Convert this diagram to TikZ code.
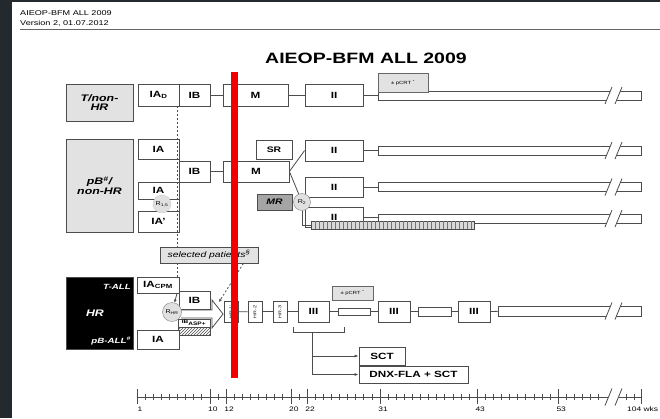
\documentclass[tikz,border=0pt]{standalone}
\usepackage{fontspec}
\setmainfont{Liberation Sans}[FakeStretch=1.3]
\usetikzlibrary{arrows.meta, patterns, positioning}
\definecolor{frame}{RGB}{36,41,46}
\definecolor{boxgray}{RGB}{226,226,226}
\definecolor{mrgray}{RGB}{165,165,165}
\definecolor{marker}{RGB}{240,0,0}

\newcommand{\fsz}[1]{\fontsize{#1}{#1}\selectfont}
% break marks of the long bars and of the time axis
\newcommand{\cutbar}[1]{%
  \fill[white] (605,#1+8.5) -- (612,#1-8.5) -- (622,#1-8.5) -- (615,#1+8.5) -- cycle;
  \draw[link] (605,#1+8.5) -- (612,#1-8.5) (615,#1+8.5) -- (622,#1-8.5);}

\begin{document}
\begin{tikzpicture}[x=1pt, y=-1pt,
  blk/.style={draw=black!70, line width=0.8pt, fill=white, inner sep=0pt, font=\bfseries\fsz{9}},
  grp/.style={blk, fill=boxgray, align=center, font=\bfseries\itshape\fsz{9.5}},
  bar/.style={draw=black!70, line width=0.8pt, fill=white, inner sep=0pt},
  pcrt/.style={draw=black!60, line width=0.8pt, fill=boxgray, inner sep=0pt, font=\fsz{4.5}},
  rnd/.style={circle, draw=black!50, fill=black!12, inner sep=0pt, minimum size=17pt, font=\fsz{5.5}},
  hrtxt/.style={text=white, inner sep=0pt, font=\bfseries\itshape\fsz{7.5}},
  hrblk/.style={blk, minimum width=14, minimum height=21, font=\fsz{4}},
  link/.style={draw=black!70, line width=0.8pt},
  wk/.style={anchor=north, inner sep=0pt, font=\fsz{6.5}}
]
  \useasboundingbox (0,0) rectangle (660,418);
  \fill[frame] (0,0) rectangle (660,418);
  \fill[white] (12,2) rectangle (660,418);

  % header
  \node[anchor=west, inner sep=0pt, font=\fsz{7}] (hd1) at (20,13) {AIEOP-BFM ALL 2009};
  \node[anchor=west, inner sep=0pt, font=\fsz{7}] (hd2) at (20,23) {Version 2, 01.07.2012};
  \draw[black!60, line width=0.8pt] (20,29) -- (660,29);
  \node[font=\bfseries\fsz{15}] (title) at (366,58) {AIEOP-BFM ALL 2009};

  % T/non-HR
  \node[grp, minimum width=67, minimum height=37] (tnhr) at (99.5,102.5) {T/non-\\HR};
  \node[blk, minimum width=41, minimum height=22] (iad) at (158.5,95) {IA\textsubscript{D}};
  \node[blk, minimum width=31, minimum height=22] (ib1) at (194.5,95) {IB};
  \node[blk, minimum width=65, minimum height=22] (m1) at (255.5,95) {M};
  \node[blk, minimum width=58, minimum height=22] (ii1) at (334,95) {II};
  \node[bar, minimum width=263, minimum height=9] (rt1) at (509.5,95.5) {};
  \node[pcrt, minimum width=50, minimum height=19] (pc1) at (403,82.5) {± pCRT \textsuperscript{*}};
  \draw[link] (ib1) -- (m1);
  \draw[link] (m1) -- (ii1);
  \draw[link] (ii1.east) -- (ii1.east -| rt1.west);
  \cutbar{95.5}

  % pB/non-HR
  \node[grp, minimum width=67, minimum height=93] (pbnhr) at (99.5,185.5) {pB\textsuperscript{\#}/\\non-HR};
  \node[blk, minimum width=41, minimum height=20] (ia2) at (158.5,149) {IA};
  \node[blk, minimum width=31, minimum height=21] (ib2) at (194.5,171.5) {IB};
  \node[blk, minimum width=66, minimum height=21] (m2) at (256,171.5) {M};
  \node[blk, minimum width=41, minimum height=17] (ia3) at (158.5,190.5) {IA};
  \node[blk, minimum width=41, minimum height=21] (iap) at (158.5,221.5) {IA'};
  \node[rnd, draw=black!40, densely dotted, minimum size=18pt] (r1) at (162,204) {R\textsubscript{1,5}};
  \draw[link] (ia2.south east) -- (iap.north east);
  \draw[link] (ib2) -- (m2);

  \node[blk, font=\bfseries\fsz{8}, minimum width=36, minimum height=19] (sr) at (274,149.5) {SR};
  \node[blk, fill=mrgray, font=\bfseries\itshape\fsz{8}, minimum width=35, minimum height=16] (mr) at (274.5,202) {MR};
  \node[blk, minimum width=58, minimum height=21] (ii2a) at (334,150.5) {II};
  \node[blk, minimum width=58, minimum height=20] (ii2b) at (334,187) {II};
  \node[blk, minimum width=58, minimum height=20] (ii2c) at (334,217) {II};
  \node[bar, minimum width=263, minimum height=9] (rt2a) at (509.5,150.5) {};
  \node[bar, minimum width=263, minimum height=9] (rt2b) at (509.5,187) {};
  \node[bar, minimum width=263, minimum height=9] (rt2c) at (509.5,218.5) {};
  \node[bar, fill=black!15, minimum width=163, minimum height=8] (ext) at (392.5,225) {};
  \foreach \x in {315,319,...,471} \draw[black!55, line width=0.5pt] (\x,221) -- (\x,229);
  \node[rnd] (r2) at (302,202) {R\textsubscript{2}};
  \draw[link] (m2.east) -- (ii2a.west);
  \draw[link] (m2.east) -- (r2);
  \draw[link] (ii2a.east) -- (ii2a.east -| rt2a.west);
  \draw[link] (ii2b.east) -- (ii2b.east -| rt2b.west);
  \draw[link] (ii2c.east) -- (ii2c.east -| rt2c.west);
  \draw[link] (r2) |- (ext.west);
  \cutbar{150.5}
  \cutbar{187}
  \cutbar{218.5}

  % HR
  \node[blk, fill=black, minimum width=67, minimum height=72] (hr) at (99.5,313) {};
  \node[hrtxt, anchor=east] (tall) at (131,287) {T-ALL};
  \node[hrtxt, font=\bfseries\itshape\fsz{9.5}] (hrl) at (95,313) {HR};
  \node[hrtxt, anchor=east] (pball) at (131,341) {pB-ALL\textsuperscript{\#}};
  \node[blk, minimum width=42, minimum height=16] (iacpm) at (158,285) {IA\textsubscript{CPM}};
  \node[blk, minimum width=31, minimum height=18] (ib3) at (194.5,300) {IB};
  \node[blk, font=\bfseries\fsz{5}, minimum width=32, minimum height=8] (ibasp) at (194,323) {IB\textsubscript{ASP+}};
  \node[draw=black!70, line width=0.8pt, pattern=north east lines, pattern color=black!70, minimum width=32, minimum height=8, inner sep=0pt] (asp) at (194,331) {};
  \node[blk, minimum width=42, minimum height=19] (ia4) at (158,339.5) {IA};

  % selected patients
  \node[blk, fill=boxgray, font=\itshape\fsz{8}, minimum width=98, minimum height=16] (sel) at (209,255) {selected patients\textsuperscript{§}};
  \coordinate (dl) at (177,106);
  \draw[link, dash pattern=on 2pt off 2pt] (dl) -- (dl |- sel.north);
  \draw[link, dash pattern=on 2pt off 2pt] (dl |- sel.south) -- (dl |- iacpm.north);

  \coordinate (tip) at (223,314);
  \draw[link, fill=white] (181,310) -- (212,310) -- (212,300) -- (tip) -- (212,328) -- (212,318) -- (181,318);
  \node[rnd, minimum size=19pt] (rhr) at (172,312) {R\textsubscript{HR}};
  \draw[link, -{Latex[length=3pt,width=3pt]}] (dl |- iacpm.south) -- (rhr);
  \draw[link, dash pattern=on 2pt off 2pt, -{Latex[length=3pt,width=3pt]}] ([xshift=-15pt]sel.south east) -- (219,302);

  \node[hrblk] (hr1) at (231,312) {\rotatebox{90}{HR-1'}};
  \node[hrblk] (hr2) at (255,311.5) {\rotatebox{90}{HR-2'}};
  \node[hrblk] (hr3) at (280,311.5) {\rotatebox{90}{HR-3'}};
  \node[blk, minimum width=31, minimum height=21] (iii1) at (313.5,311.5) {III};
  \node[pcrt, minimum width=41, minimum height=14] (pc2) at (352.5,293) {± pCRT \textsuperscript{*}};
  \node[bar, minimum width=32, minimum height=7] (rtb) at (354,311.5) {};
  \node[blk, minimum width=32, minimum height=21] (iii2) at (394,311.5) {III};
  \node[bar, minimum width=33, minimum height=9] (gap) at (434.5,311.5) {};
  \node[blk, minimum width=32, minimum height=21] (iii3) at (474,311.5) {III};
  \node[bar, minimum width=143, minimum height=10] (rt3) at (569.5,311) {};
  \draw[link] (hr1) -- (hr2);
  \draw[link] (hr2) -- (hr3);
  \draw[link] (hr3) -- (iii1);
  \draw[link] (iii1) -- (rtb);
  \draw[link] (rtb) -- (iii2);
  \draw[link] (iii2) -- (gap);
  \draw[link] (gap) -- (iii3);
  \draw[link] (iii3) -- (rt3);
  \cutbar{311}

  % SCT
  \draw[link] (293,327) |- (344,332) -- (344,327);
  \coordinate (br) at (312,332);
  \node[blk, font=\bfseries\fsz{9}, minimum width=46, minimum height=18] (sct) at (382,356) {SCT};
  \node[blk, font=\bfseries\fsz{9}, minimum width=109, minimum height=17] (dnx) at (413.5,374.5) {DNX-FLA + SCT};
  \draw[link, -{Latex[length=4pt,width=3pt]}] (br) |- (sct.west);
  \draw[link, -{Latex[length=4pt,width=3pt]}] (br) |- (dnx.west);

  % time axis
  \draw[link] (137,397) -- (641,397);
  \foreach \w in {1,...,58} \draw[link] ({137+(\w-1)*8.1},394) -- ({137+(\w-1)*8.1},400);
  \foreach \w in {1,10,12,20,22,31,43,53} {
    \draw[link] ({137+(\w-1)*8.1},389) -- ({137+(\w-1)*8.1},404);
    \node[wk] (wk\w) at ({140+(\w-1)*8.1},407) {\w};
  }
  \foreach \x in {626,634} \draw[link] (\x,394) -- (\x,400);
  \draw[link] (641,389) -- (641,404);
  \node[wk, anchor=north west] (wk104) at (627,407) {104 wks};
  \cutbar{397}

  % marker line
  \fill[marker] (231,72) rectangle (238,378);
\end{tikzpicture}
\end{document}
